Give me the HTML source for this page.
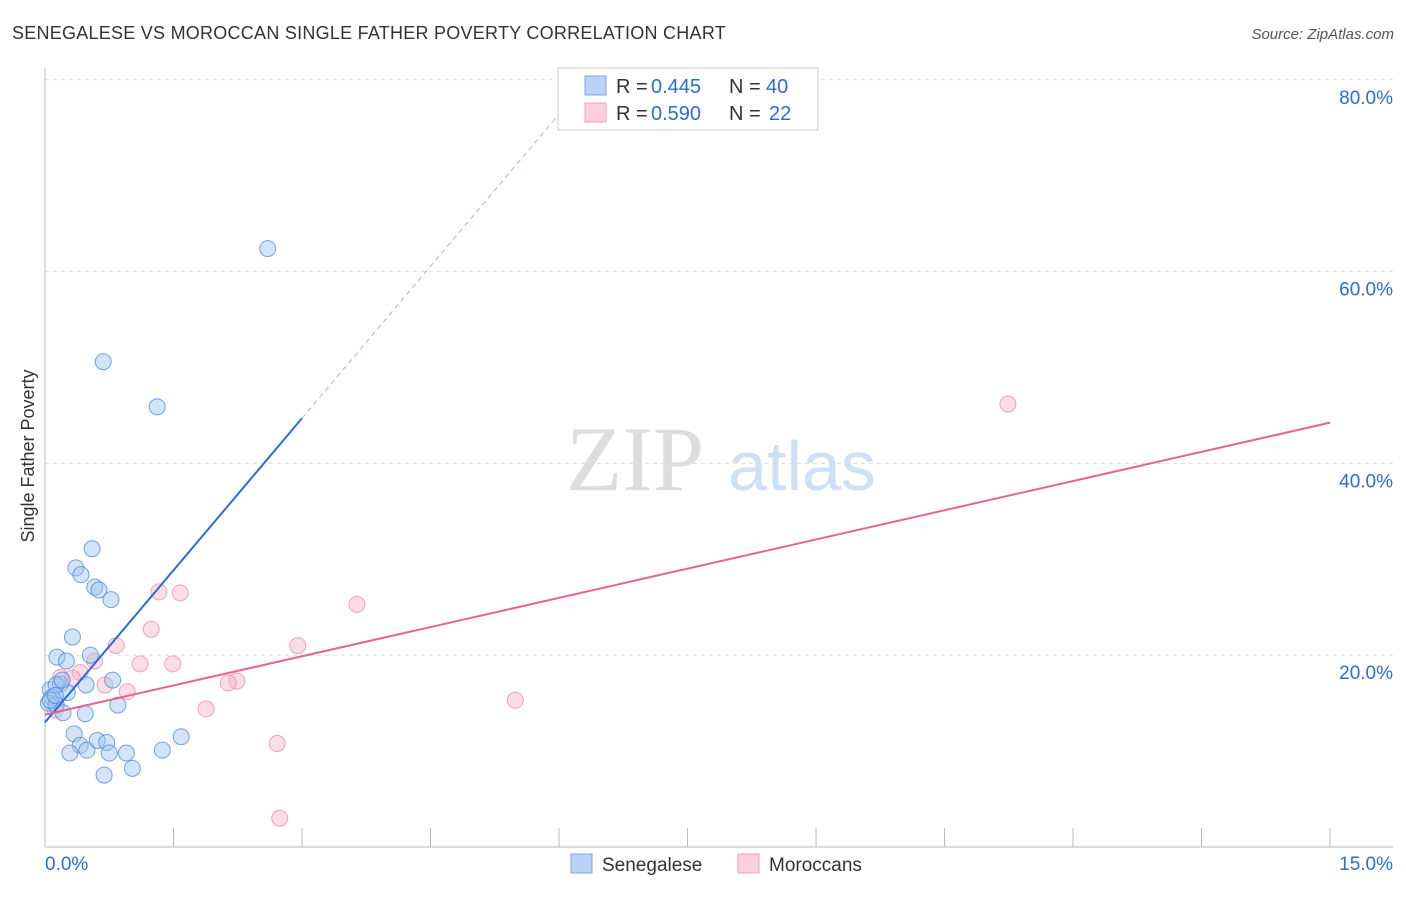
<!DOCTYPE html>
<html><head><meta charset="utf-8"><style>
body{margin:0;background:#fff;font-family:"Liberation Sans",sans-serif}
</style></head><body>
<svg width="1406" height="892" xmlns="http://www.w3.org/2000/svg" id="svg">
<text x="12" y="39" font-size="18" letter-spacing="0.25" fill="#333">SENEGALESE VS MOROCCAN SINGLE FATHER POVERTY CORRELATION CHART</text>
<text x="1394" y="39" font-size="15" font-style="italic" fill="#555" text-anchor="end">Source: ZipAtlas.com</text>
<text transform="translate(34,456) rotate(-90)" font-size="18" fill="#333" text-anchor="middle">Single Father Poverty</text>
<g><text x="635" y="490" font-size="92" font-family="Liberation Serif,serif" fill="#ddd" text-anchor="middle">ZIP</text><text x="802" y="490" font-size="70" fill="#cfe0f5" text-anchor="middle">atlas</text></g>
<g id="grid"></g><g id="marks"></g>
<g>
<rect x="558" y="68" width="260" height="62" fill="#fff" stroke="#ccc"/>
<rect x="585" y="76" width="21" height="19" fill="#b9d3f5" stroke="#7aa7e6"/>
<rect x="585" y="103" width="21" height="19" fill="#fccfdd" stroke="#f0a0bb"/>
<text x="616" y="93" font-size="20" fill="#333">R =</text><text x="651" y="93" font-size="20" fill="#2a6dd6">0.445</text>
<text x="729" y="93" font-size="20" fill="#333">N =</text><text x="766" y="93" font-size="20" fill="#2a6dd6">40</text>
<text x="616" y="120" font-size="20" fill="#333">R =</text><text x="651" y="120" font-size="20" fill="#2a6dd6">0.590</text>
<text x="729" y="120" font-size="20" fill="#333">N =</text><text x="769" y="120" font-size="20" fill="#2a6dd6">22</text>
</g>
<g>
<rect x="571" y="854" width="21" height="19" fill="#b9d3f5" stroke="#7aa7e6"/>
<text x="602" y="871" font-size="19" fill="#333">Senegalese</text>
<rect x="738" y="854" width="21" height="19" fill="#fccfdd" stroke="#f0a0bb"/>
<text x="769" y="871" font-size="19" fill="#333">Moroccans</text>
</g>
</svg>
<script>
const yTicks=[20,40,60,80];
const xTickLabels=["0.0%","15.0%"];
const blueX=[2.60,0.68,1.31,0.55,0.36,0.42,0.58,0.63,0.77,0.32,0.14,0.25,0.53,0.79,0.48,0.06,0.18,0.08,0.04,0.13,0.26,0.21,0.47,0.85,0.34,0.41,0.49,0.61,0.72,0.29,0.75,0.95,1.37,1.59,1.02,0.69,0.13,0.20,0.06,0.12];
const blueY=[62.4,50.6,45.9,31.1,29.1,28.4,27.1,26.8,25.8,21.9,19.8,19.4,20.0,17.4,16.9,16.4,17.0,15.6,15.0,14.8,16.1,14.0,13.9,14.8,11.8,10.6,10.1,11.1,10.9,9.8,9.8,9.8,10.1,11.5,8.2,7.5,16.9,17.4,15.3,15.8];
const pinkX=[11.24,1.33,1.58,3.64,1.24,0.83,2.95,0.58,1.11,1.49,0.41,0.18,0.32,2.24,2.14,0.70,0.96,1.88,5.49,2.71,2.74,0.12];
const pinkY=[46.2,26.6,26.5,25.3,22.7,21.0,21.0,19.4,19.1,19.1,18.2,17.7,17.6,17.3,17.1,16.9,16.2,14.4,15.3,10.8,3.0,14.3];
const blueFit=[13.0,10.57]; const pinkFit=[13.8,2.03];
const X=v=>45+v*85.67, Y=v=>847-v*9.59;
const NS="http://www.w3.org/2000/svg";
function mk(t,a,p){const e=document.createElementNS(NS,t);for(const k in a)e.setAttribute(k,a[k]);p.appendChild(e);return e;}
const g=document.getElementById('grid'), m=document.getElementById('marks');
yTicks.forEach(t=>{
 const l=mk('line',{x1:45,x2:1393,y1:Y(t),y2:Y(t),stroke:'#ddd','stroke-dasharray':'4,4'},g);
 
 
 const tx=mk('text',{x:1393,y:Y(t)+24,'font-size':19,fill:'#2a6dd6','text-anchor':'end'},g);tx.textContent=t.toFixed(1)+'%';
 
 
});
mk('line',{x1:45,x2:45,y1:68,y2:847,stroke:'#bbb'},g);
mk('line',{x1:45,x2:1393,y1:847,y2:847,stroke:'#bbb'},g);
for(let i=0;i<=10;i++){mk('line',{x1:X(i*1.5),x2:X(i*1.5),y1:828,y2:847,stroke:'#bbb'},g);}
xTickLabels.forEach((s,i)=>{const tx=mk('text',{x:i?1393:45,y:870,'font-size':19,fill:'#2a6dd6','text-anchor':i?'end':'start'},g);tx.textContent=s;
 
 });
pinkX.forEach((x,i)=>{const c=mk('circle',{cx:X(x),cy:Y(pinkY[i]),r:8,fill:'rgba(248,180,200,0.45)',stroke:'rgba(235,130,165,0.7)'},m);
 
 });
blueX.forEach((x,i)=>{const c=mk('circle',{cx:X(x),cy:Y(blueY[i]),r:8,fill:'rgba(160,195,240,0.45)',stroke:'rgba(60,130,220,0.7)'},m);
 
 });
let l=mk('line',{x1:X(0),y1:Y(blueFit[0]),x2:X(3),y2:Y(blueFit[0]+3*blueFit[1]),stroke:'#2a6dd6','stroke-width':2},m);


const xe=(80-blueFit[0])/blueFit[1];
l=mk('line',{x1:X(3),y1:Y(blueFit[0]+3*blueFit[1]),x2:X(xe),y2:Y(80),stroke:'#9bbbe6','stroke-width':1,'stroke-dasharray':'5,4'},m);


l=mk('line',{x1:X(0),y1:Y(pinkFit[0]),x2:X(15),y2:Y(pinkFit[0]+15*pinkFit[1]),stroke:'#e8648f','stroke-width':2},m);


</script>
</body></html>
